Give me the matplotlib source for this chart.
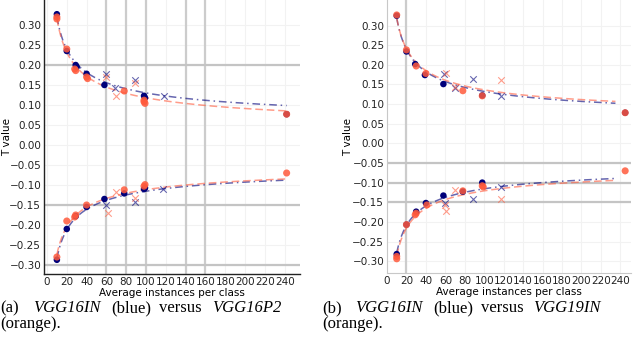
import numpy as np
import matplotlib
matplotlib.use("Agg")
import matplotlib.pyplot as plt

# ---------------- data ----------------
# Panel (a): VGG16IN (blue) vs VGG16P2 (orange)
a_blue_up_x = [10, 20, 29, 30, 40, 58, 98, 99, 242]
a_blue_up_y = [0.327, 0.235, 0.200, 0.195, 0.178, 0.150, 0.123, 0.118, 0.077]
a_orng_up_x = [10, 10, 20, 28, 29, 40, 41, 78, 98, 98, 99, 242]
a_orng_up_y = [0.320, 0.315, 0.240, 0.190, 0.186, 0.170, 0.166, 0.135, 0.112, 0.108, 0.104, 0.077]
a_blue_upx_x = [60, 69, 89, 118]
a_blue_upx_y = [0.177, 0.143, 0.162, 0.123]
a_orng_upx_x = [60, 70, 89]
a_orng_upx_y = [0.170, 0.123, 0.155]

a_blue_lo_x = [10, 20, 29, 40, 58, 78, 98, 99]
a_blue_lo_y = [-0.287, -0.210, -0.178, -0.155, -0.135, -0.121, -0.110, -0.107]
a_orng_lo_x = [10, 20, 28, 29, 40, 78, 98, 99, 242]
a_orng_lo_y = [-0.280, -0.190, -0.180, -0.175, -0.150, -0.112, -0.103, -0.099, -0.070]
a_blue_lox_x = [60, 89, 117]
a_blue_lox_y = [-0.150, -0.142, -0.110]
a_orng_lox_x = [62, 70, 89]
a_orng_lox_y = [-0.170, -0.117, -0.133]

# Panel (b): VGG16IN (blue) vs VGG19IN (orange)
b_blue_up_x = [10, 20, 29, 39, 58, 98, 245]
b_blue_up_y = [0.325, 0.234, 0.202, 0.174, 0.151, 0.122, 0.078]
b_orng_up_x = [10, 20, 30, 40, 78, 98, 245]
b_orng_up_y = [0.327, 0.238, 0.197, 0.178, 0.134, 0.121, 0.078]
b_blue_upx_x = [59, 70, 88, 117]
b_blue_upx_y = [0.177, 0.142, 0.164, 0.121]
b_orng_upx_x = [61, 70, 117]
b_orng_upx_y = [0.178, 0.144, 0.162]

b_blue_lo_x = [10, 20, 30, 40, 58, 78, 98]
b_blue_lo_y = [-0.282, -0.207, -0.174, -0.152, -0.133, -0.123, -0.100]
b_orng_lo_x = [10, 10, 20, 29, 30, 41, 78, 98, 99, 245]
b_orng_lo_y = [-0.294, -0.288, -0.207, -0.182, -0.178, -0.157, -0.121, -0.108, -0.111, -0.070]
b_blue_lox_x = [60, 88, 117]
b_blue_lox_y = [-0.153, -0.141, -0.110]
b_orng_lox_x = [61, 60, 70, 117]
b_orng_lox_y = [-0.172, -0.158, -0.118, -0.141]

# heavy reference lines
a_vlines = [60, 80, 100, 140, 160]
a_hlines = [0.20, -0.15, -0.30]
b_vlines = [20]
b_hlines = [-0.05, -0.10, -0.15]

xticks = list(range(0, 241, 20))
yticks = [-0.30, -0.25, -0.20, -0.15, -0.10, -0.05, 0.00, 0.05, 0.10, 0.15, 0.20, 0.25, 0.30]

BLUE = "#00007a"
ORNG = "#ff5a3c"

plt.rcParams['font.family'] = ['DejaVu Sans']

fig = plt.figure(figsize=(6.4, 3.5), dpi=100)


def fit_curve(xs, ys, x_end):
    # least squares fit of y = a + c / sqrt(x) on the mid-range points
    xs = np.asarray(xs, float)
    ys = np.asarray(ys, float)
    m = xs < 150
    A = np.vstack([np.ones(m.sum()), 1 / np.sqrt(xs[m])]).T
    (a, c), *_ = np.linalg.lstsq(A, ys[m], rcond=None)
    xx = np.linspace(10, x_end, 200)
    return xx, a + c / np.sqrt(xx)


def panel(ax, d, vlines, hlines, xlim, ylim, dark_spines):
    ax.set_xlim(*xlim)
    ax.set_ylim(*ylim)
    ax.set_xticks(xticks)
    ax.set_yticks(yticks)
    ax.set_yticklabels([f"{v:.2f}".replace("-", "\u2212") for v in yticks])
    ax.grid(True, color="#f2f2f2", linewidth=0.8)
    ax.set_axisbelow(True)
    for v in vlines:
        ax.axvline(v, color="#cccccc", linewidth=1.6, zorder=1)
    for h in hlines:
        ax.axhline(h, color="#c4c4c4", linewidth=1.6, zorder=1)
    for s in ["top", "right"]:
        ax.spines[s].set_visible(False)
    for s in ["left", "bottom"]:
        if dark_spines:
            ax.spines[s].set_color("#222222")
            ax.spines[s].set_linewidth(1.0)
        else:
            ax.spines[s].set_color("#c8c8c8")
    ax.tick_params(length=0, labelsize=7.5, pad=2, colors="#222222")
    ax.set_xlabel("Average instances per class", fontsize=7.5, labelpad=1)
    ax.set_ylabel("T value", fontsize=7.5)

    (bux, buy, oux, ouy, bxux, bxuy, oxux, oxuy,
     blx, bly, olx, oly, bxlx, bxly, oxlx, oxly, xend) = d
    # fit lines
    for xs, ys, col, ls in [(bux + bxux, buy + bxuy, BLUE, (0, (5, 2.5, 1, 2.5))),
                            (oux + oxux, ouy + oxuy, ORNG, (0, (5, 2.5))),
                            (blx + bxlx, bly + bxly, BLUE, (0, (5, 2.5, 1, 2.5))),
                            (olx + oxlx, oly + oxly, ORNG, (0, (5, 2.5)))]:
        xx, yy = fit_curve(xs, ys, xend)
        ax.plot(xx, yy, color=col, linestyle=ls, linewidth=1.1, alpha=0.6, zorder=3)
    # x markers
    ax.scatter(bxux + bxlx, bxuy + bxly, marker="x", color=BLUE, s=22, linewidths=0.8, alpha=0.6, zorder=4)
    ax.scatter(oxux + oxlx, oxuy + oxly, marker="x", color=ORNG, s=22, linewidths=0.8, alpha=0.6, zorder=4)
    # dots
    ax.scatter(bux + blx, buy + bly, color=BLUE, s=22, zorder=5, edgecolors="none")
    ax.scatter(oux + olx, ouy + oly, color=ORNG, s=26, alpha=0.85, zorder=6, edgecolors="none")


ax1 = fig.add_axes([44 / 640, 76 / 350, 256 / 640, 274 / 350])
panel(ax1, (a_blue_up_x, a_blue_up_y, a_orng_up_x, a_orng_up_y,
            a_blue_upx_x, a_blue_upx_y, a_orng_upx_x, a_orng_upx_y,
            a_blue_lo_x, a_blue_lo_y, a_orng_lo_x, a_orng_lo_y,
            a_blue_lox_x, a_blue_lox_y, a_orng_lox_x, a_orng_lox_y, 242),
      a_vlines, a_hlines, (-3, 255.5), (-0.3225, 0.3625), True)
ax1.yaxis.set_label_coords((12 - 44) / 256, 0.5)

ax2 = fig.add_axes([387 / 640, 77 / 350, 244 / 640, 273 / 350])
panel(ax2, (b_blue_up_x, b_blue_up_y, b_orng_up_x, b_orng_up_y,
            b_blue_upx_x, b_blue_upx_y, b_orng_upx_x, b_orng_upx_y,
            b_blue_lo_x, b_blue_lo_y, b_orng_lo_x, b_orng_lo_y,
            b_blue_lox_x, b_blue_lox_y, b_orng_lox_x, b_orng_lox_y, 235),
      b_vlines, b_hlines, (0, 251), (-0.3302, 0.3651), False)
ax2.yaxis.set_label_coords((353 - 387) / 244, 0.5)

# captions
cap_fs = 12
def word(xpx, ypx, s, italic=False):
    fig.text(xpx / 640, 1 - ypx / 350, s, fontsize=cap_fs, family="Liberation Serif",
             style="italic" if italic else "normal", ha="left", va="baseline")

for xpx, s, it in [(0, "(a)", False), (33, "VGG16IN", True), (111, "(blue)", False),
                   (159, "versus", False), (212, "VGG16P2", True)]:
    word(xpx, 312, s, it)
word(0, 328, "(orange).")
for xpx, s, it in [(322, "(b)", False), (355, "VGG16IN", True), (433, "(blue)", False),
                   (481, "versus", False), (533, "VGG19IN", True)]:
    word(xpx, 312, s, it)
word(322, 328, "(orange).")

fig.savefig("out.png", dpi=100)
